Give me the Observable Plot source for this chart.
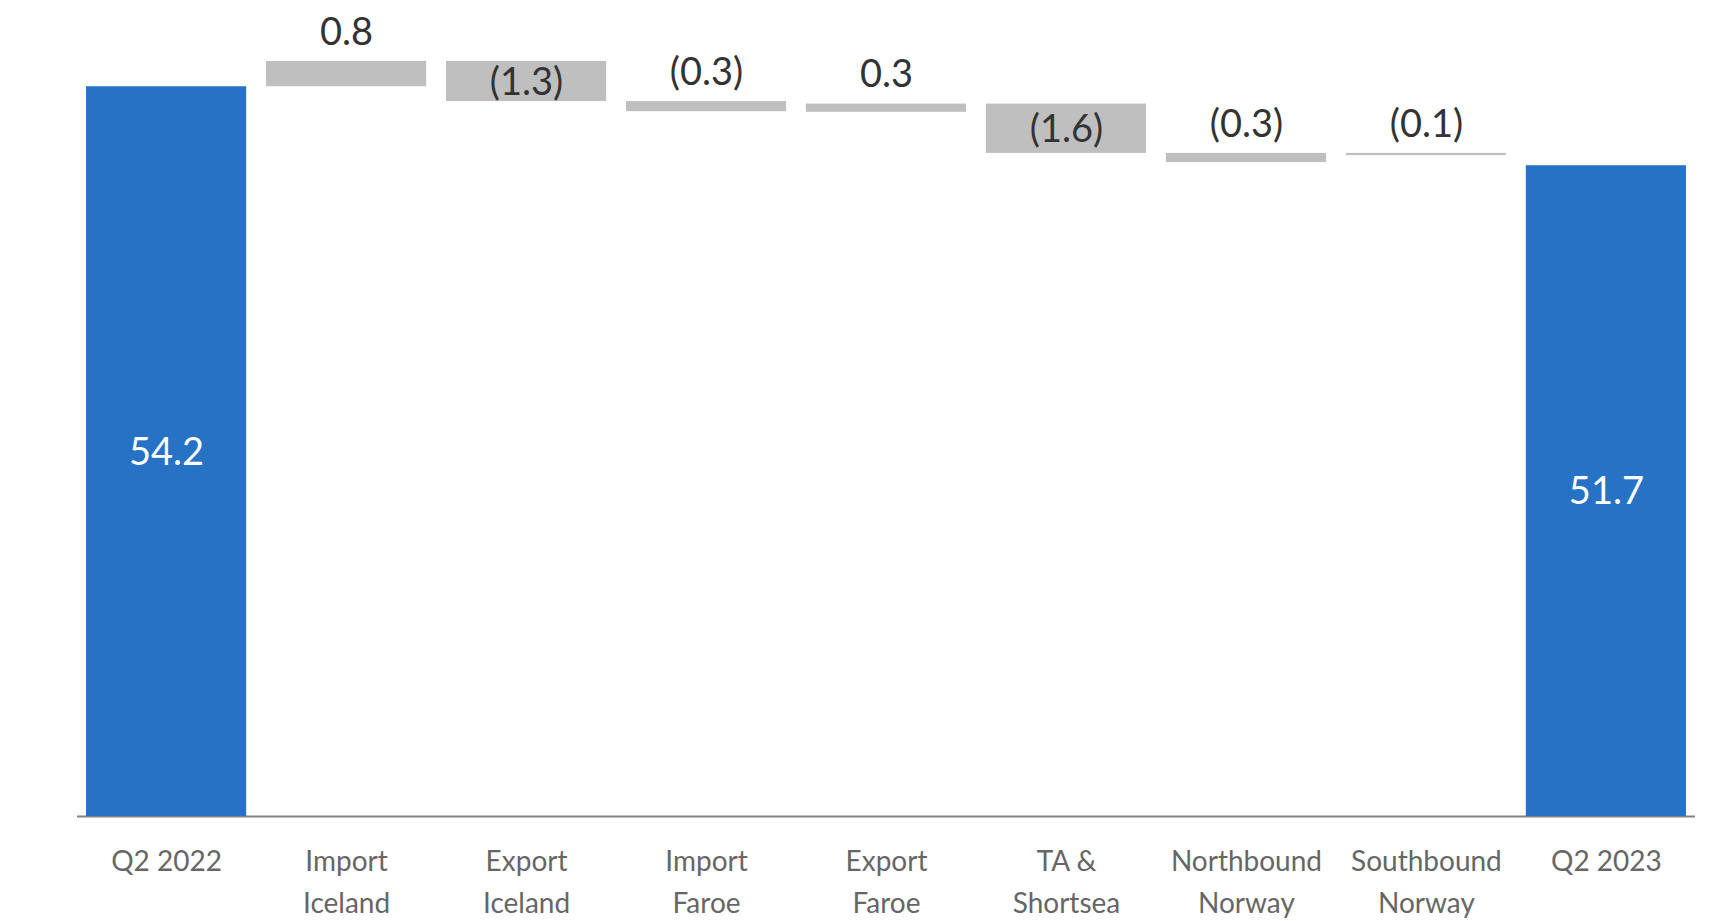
<!DOCTYPE html>
<html>
<head>
<meta charset="utf-8">
<script src="https://cdn.jsdelivr.net/npm/d3@7"></script>
<script src="https://cdn.jsdelivr.net/npm/@observablehq/plot@0.6"></script>
<style>
  html, body { margin: 0; padding: 0; background: #fff; overflow: hidden; }
  #chart svg { display: block; }
</style>
</head>
<body>
<div id="chart"></div>
<script>
// ---- data ----
const categories = ["Q2 2022", "Import Iceland", "Export Iceland", "Import Faroe", "Export Faroe",
                    "TA & Shortsea", "Northbound Norway", "Southbound Norway", "Q2 2023"];
const tickLabels = ["Q2 2022", "Import\nIceland", "Export\nIceland", "Import\nFaroe", "Export\nFaroe",
                    "TA &\nShortsea", "Northbound\nNorway", "Southbound\nNorway", "Q2 2023"];
const valueLabels = ["54.2", "0.8", "(1.3)", "(0.3)", "0.3", "(1.6)", "(0.3)", "(0.1)", "51.7"];
const barKind = ["total", "step", "step", "step", "step", "step", "step", "step", "total"];
const axisMin = 31.1;   // value at the chart's baseline (axis is truncated)
const axisMax = 56.93;
const barLow  = [axisMin, 54.2, 53.73, 53.41, 53.39, 52.09, 51.80, 52.02, axisMin];
const barHigh = [54.2,    55.0, 55.0,  53.73, 53.65, 53.65, 52.09, 52.09, 51.7];
const labelInside = [true, false, true, false, false, true, false, false, true];

const idx = d3.range(categories.length);

const chart = Plot.plot({
  width: 1721,
  height: 921,
  marginTop: 0,
  marginBottom: 105,
  marginLeft: 77,
  marginRight: 26,
  style: { fontFamily: "Lato, 'Open Sans', sans-serif", background: "#fff" },
  x: { type: "band", domain: categories, paddingInner: 0.11, paddingOuter: 0.05, round: false, label: null },
  y: { domain: [axisMin, axisMax], axis: null },
  marks: [
    Plot.ruleY([axisMin], { stroke: "#808080", strokeWidth: 2 }),
    Plot.barY(idx, {
      x: i => categories[i],
      y1: i => barLow[i],
      y2: i => barHigh[i],
      fill: i => barKind[i] === "total" ? "#2872C6" : "#BFBFBF",
      inset: 0
    }),
    // labels inside bars
    Plot.text(idx.filter(i => labelInside[i]), {
      x: i => categories[i],
      y: i => (barLow[i] + barHigh[i]) / 2,
      text: i => valueLabels[i],
      fill: i => barKind[i] === "total" ? "#ffffff" : "#333333",
      fontSize: 38,
      lineAnchor: "middle",
      dy: 1
    }),
    // labels above bars
    Plot.text(idx.filter(i => !labelInside[i]), {
      x: i => categories[i],
      y: i => barHigh[i],
      text: i => valueLabels[i],
      fill: "#333333",
      fontSize: 38,
      lineAnchor: "middle",
      dy: -29
    }),
    Plot.axisX({
      tickSize: 0,
      tickPadding: 25,
      fontSize: 28,
      lineHeight: 1.5,
      color: "#666666",
      label: null,
      tickFormat: d => tickLabels[categories.indexOf(d)]
    })
  ]
});

document.getElementById("chart").appendChild(chart);
</script>
</body>
</html>
